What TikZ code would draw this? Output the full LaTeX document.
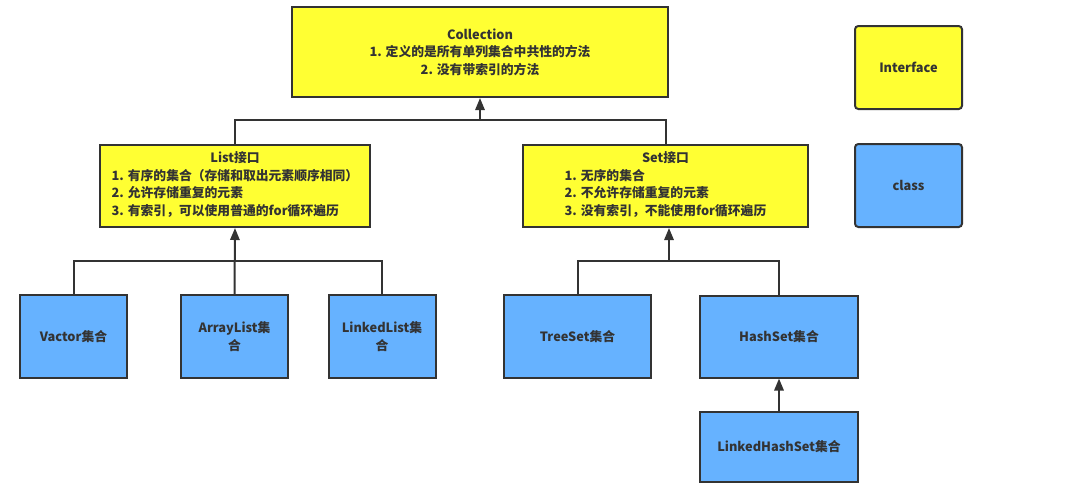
\documentclass[tikz,border=0pt]{standalone}
\usepackage{fontspec}
\setmainfont{Noto Sans CJK SC}
\usetikzlibrary{arrows.meta, positioning}
\definecolor{ink}{HTML}{333333}
\definecolor{ifill}{HTML}{FFFF33}
\definecolor{cfill}{HTML}{66B2FF}

\begin{document}
\begin{tikzpicture}[
  x=0.75pt, y=-0.75pt,
  iface/.style={rectangle, draw=ink, line width=1.5pt, fill=ifill, text=ink, align=center, inner sep=0pt,
    font=\fontsize{9.6}{13.1}\selectfont\bfseries},
  impl/.style={iface, fill=cfill},
  legend/.style={rounded corners=2.5pt, minimum width=80.25pt, minimum height=62.25pt},
  arr/.style={draw=ink, line width=1.5pt, -{Triangle[length=9pt, width=7pt]}},
  link/.style={draw=ink, line width=1.5pt}
]
\useasboundingbox (0,0) rectangle (1066,487);

% interfaces
\node[iface, minimum width=282pt, minimum height=67.5pt] (coll) at (480,52)
  {Collection\\1. 定义的是所有单列集合中共性的方法\\2. 没有带索引的方法};
\node[iface, minimum width=202.5pt, minimum height=61.5pt] (list) at (235,186)
  {List接口\\\begin{tabular}[t]{@{}l@{}}1. 有序的集合（存储和取出元素顺序相同）\\2. 允许存储重复的元素\\3. 有索引，可以使用普通的for循环遍历\end{tabular}};
\node[iface, minimum width=213.75pt, minimum height=61.5pt] (set) at (665.5,186)
  {Set接口\\\begin{tabular}[t]{@{}l@{}}1. 无序的集合\\2. 不允许存储重复的元素\\3. 没有索引，不能使用for循环遍历\end{tabular}};

% classes
\node[impl, minimum width=80.25pt, minimum height=62.25pt] (vac) at (73.5,336.5) {Vactor集合};
\node[impl, minimum width=80.25pt, minimum height=62.25pt] (alist) at (234.5,336.5) {ArrayList集\\合};
\node[impl, minimum width=80.25pt, minimum height=62.25pt] (llist) at (382,336.5) {LinkedList集\\合};
\node[impl, minimum width=110.25pt, minimum height=62.25pt] (tree) at (577.5,336.5) {TreeSet集合};
\node[impl, minimum width=118.5pt, minimum height=61.5pt] (hash) at (779,336.5) {HashSet集合};
\node[impl, minimum width=118.5pt, minimum height=52.5pt] (lhash) at (779,447) {LinkedHashSet集合};

% legend
\node[iface, legend] (ileg) at (908.5,67.5) {Interface};
\node[impl, legend] (cleg) at (908.5,185.5) {class};

% junctions
\coordinate (cjn) at (480,120);
\coordinate (ljn) at (235,261);
\coordinate (sjn) at (669,261);

% connections
\draw[link] (list.north) |- (cjn);
\draw[link] (set.north) |- (cjn);
\draw[arr] (cjn) -- (coll.south);
\draw[link] (vac.north) |- (ljn);
\draw[link] (llist.north) |- (ljn);
\draw[arr] (alist.north) -- (list.south);
\draw[link] (tree.north) |- (sjn);
\draw[link] (hash.north) |- (sjn);
\draw[arr] (sjn) -- (sjn |- set.south);
\draw[arr] (lhash.north) -- (hash.south);

\end{tikzpicture}
\end{document}
